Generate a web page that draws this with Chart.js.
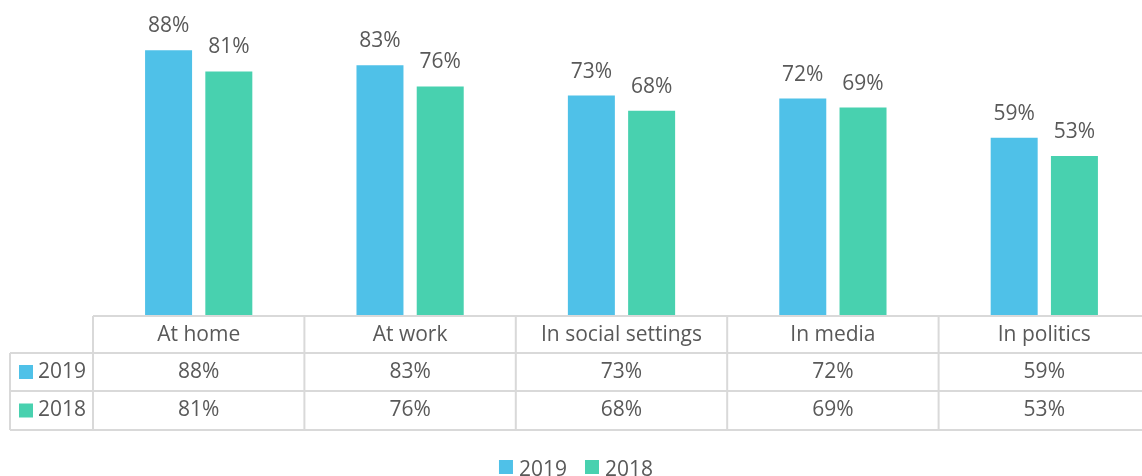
<!DOCTYPE html>
<html><head><meta charset="utf-8">
<script src="https://cdn.jsdelivr.net/npm/chart.js"></script>
<style>html,body{margin:0;padding:0;background:#fff;overflow:hidden;width:1142px;height:476px}#w{width:1150px;height:476px;position:relative}</style>
</head><body><div id="w"><canvas id="c"></canvas></div>
<script>
const categories = ['At home', 'At work', 'In social settings', 'In media', 'In politics'];
const seriesNames = ['2019', '2018'];
const values2019 = [88, 83, 73, 72, 59];
const values2018 = [81, 76, 68, 69, 53];
const seriesColors = ['#4FC1E8', '#48D1AF'];

const FONT = '"Open Sans", "DejaVu Sans", sans-serif';
const TEXT = '#595959';
const LINE = '#D9D9D9';
const VIEW_CENTER = 571;
const fmt = v => v + '%';

const tablePlugin = {
  id: 'tablePlugin',
  afterDraw(chart) {
    const ctx = chart.ctx;
    const ca = chart.chartArea;
    const n = categories.length;
    const colW = (ca.right - ca.left) / n;
    const top = ca.bottom;
    const rows = [top, top + 37, top + 75, top + 114];
    const labelLeft = 10;
    const datasets = chart.data.datasets;
    ctx.save();
    // data labels above bars
    ctx.fillStyle = TEXT;
    ctx.font = '21px ' + FONT;
    ctx.textAlign = 'center';
    ctx.textBaseline = 'alphabetic';
    datasets.forEach((ds, di) => {
      chart.getDatasetMeta(di).data.forEach((bar, j) => {
        ctx.fillText(fmt(ds.data[j]), bar.x, bar.y - 18);
      });
    });
    // table lines
    ctx.strokeStyle = LINE;
    ctx.lineWidth = 2;
    ctx.beginPath();
    ctx.moveTo(ca.left, rows[0]); ctx.lineTo(ca.right, rows[0]);
    for (let r = 1; r < rows.length; r++) { ctx.moveTo(labelLeft, rows[r]); ctx.lineTo(ca.right, rows[r]); }
    for (let i = 0; i <= n; i++) { const x = ca.left + i * colW; ctx.moveTo(x, rows[0]); ctx.lineTo(x, rows[3]); }
    ctx.moveTo(labelLeft, rows[1]); ctx.lineTo(labelLeft, rows[3]);
    ctx.stroke();
    // header
    ctx.textBaseline = 'middle';
    categories.forEach((c, i) => {
      ctx.fillText(c, ca.left + (i + 0.5) * colW, (rows[0] + rows[1]) / 2 + 1);
    });
    // rows
    datasets.forEach((ds, di) => {
      const yMid = (rows[di + 1] + rows[di + 2]) / 2;
      ctx.fillStyle = ds.backgroundColor;
      ctx.fillRect(19, yMid - 7, 14, 14);
      ctx.fillStyle = TEXT;
      ctx.textAlign = 'left';
      ctx.fillText(ds.label, 38, yMid);
      ctx.textAlign = 'center';
      ds.data.forEach((v, j) => {
        ctx.fillText(fmt(v), ca.left + (j + 0.5) * colW, yMid);
      });
    });
    // legend
    ctx.textAlign = 'left';
    ctx.textBaseline = 'alphabetic';
    const widths = datasets.map(ds => 14 + 6 + ctx.measureText(ds.label).width);
    const gap = 18;
    const total = widths.reduce((a, b) => a + b, 0) + gap * (widths.length - 1);
    let x = VIEW_CENTER - total / 2 + 5;
    datasets.forEach((ds, di) => {
      ctx.fillStyle = ds.backgroundColor;
      ctx.fillRect(x, 460, 14, 14);
      ctx.fillStyle = TEXT;
      ctx.fillText(ds.label, x + 20, 476);
      x += widths[di] + gap;
    });
    ctx.restore();
  }
};

new Chart(document.getElementById('c'), {
  type: 'bar',
  data: {
    labels: categories,
    datasets: [
      { label: seriesNames[0], data: values2019, backgroundColor: seriesColors[0], categoryPercentage: 0.57, barPercentage: 0.78 },
      { label: seriesNames[1], data: values2018, backgroundColor: seriesColors[1], categoryPercentage: 0.57, barPercentage: 0.78 }
    ]
  },
  options: {
    responsive: true,
    maintainAspectRatio: false,
    animation: false,
    layout: { padding: { left: 93, right: 0, top: 14, bottom: 160 } },
    plugins: { legend: { display: false }, tooltip: { enabled: false } },
    scales: {
      x: { display: false },
      y: { display: false, min: 0, max: 100 }
    }
  },
  plugins: [tablePlugin]
});
</script>
</body></html>
